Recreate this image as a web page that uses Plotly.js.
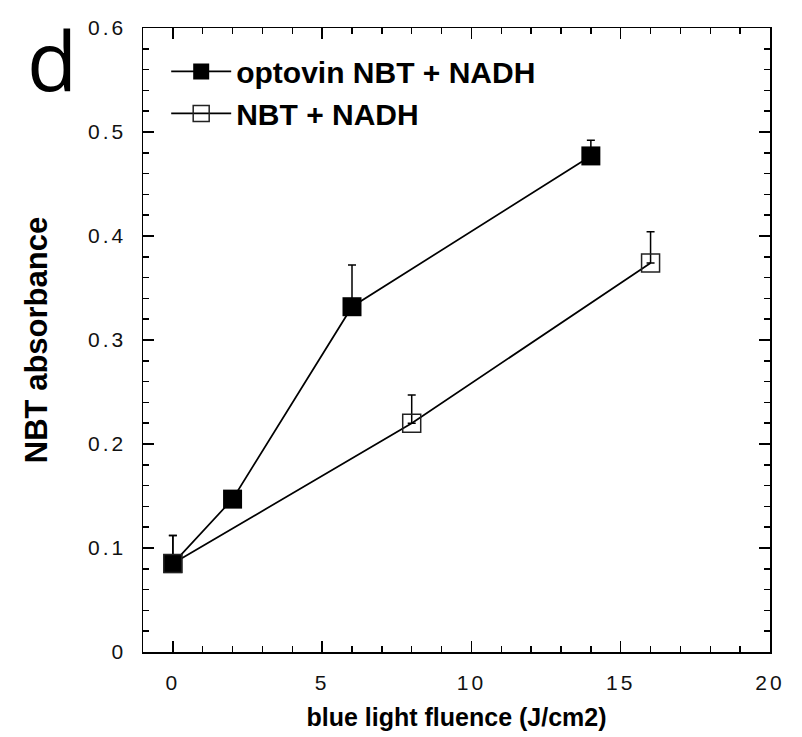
<!DOCTYPE html>
<html>
<head>
<meta charset="utf-8">
<script src="https://cdn.plot.ly/plotly-3.0.1.min.js"></script>
<style>
  html, body { margin: 0; padding: 0; background: #fff; }
  #chart { width: 802px; height: 737px; }
  .xtick text, .ytick text { letter-spacing: 3px; }
</style>
</head>
<body>
<div id="chart"></div>
<script>
// Blue light fluence (J/cm2)
const fluenceOptovin = [0, 2, 6, 14];
const absorbOptovin  = [0.085, 0.147, 0.332, 0.477];
const errOptovin     = [0.027, 0, 0.040, 0.015];

const fluenceControl = [0, 8, 16];
const absorbControl  = [0.085, 0.220, 0.374];
const errControl     = [0.027, 0.027, 0.030];

const seriesNames = ['optovin NBT + NADH', 'NBT + NADH'];

const lineStyle = { color: '#000', width: 1.7 };
const errStyle = (arr) => ({
  type: 'data', symmetric: false, array: arr,
  arrayminus: arr.map(() => 0),
  color: '#000', thickness: 1.5, width: 4
});

const traces = [
  {
    x: fluenceOptovin, y: absorbOptovin, name: seriesNames[0],
    type: 'scatter', mode: 'lines+markers',
    line: lineStyle,
    marker: { symbol: 'square', size: 19, color: '#000', line: { color: '#000', width: 0 } },
    error_y: errStyle(errOptovin)
  },
  {
    x: fluenceControl, y: absorbControl, name: seriesNames[1],
    type: 'scatter', mode: 'lines+markers',
    line: lineStyle,
    marker: { symbol: 'square-open', size: 18, color: '#222', line: { color: '#222', width: 1.5 } },
    error_y: errStyle(errControl)
  }
];

const tickFont = { family: 'Liberation Sans, Arial, sans-serif', size: 21, color: '#111' };
const boldFont = (s) => ({ family: 'Liberation Sans, Arial, sans-serif', size: s, color: '#000', weight: 'bold' });

const layout = {
  width: 802, height: 737,
  margin: { l: 143, r: 32, t: 28, b: 85 },
  paper_bgcolor: '#fff', plot_bgcolor: '#fff',
  showlegend: true,
  legend: {
    x: 0.037, y: 0.972, xanchor: 'left', yanchor: 'top',
    bgcolor: 'rgba(0,0,0,0)', borderwidth: 0, itemwidth: 60,
    font: boldFont(30), tracegroupgap: 0
  },
  xaxis: {
    range: [-1, 20], dtick: 5, tick0: 0,
    showgrid: false, zeroline: false,
    showline: true, linecolor: '#000', linewidth: 1.5, mirror: 'ticks',
    ticks: 'inside', ticklen: 11, tickwidth: 1.5, tickcolor: '#000',
    minor: { dtick: 1, ticks: 'inside', ticklen: 6, tickwidth: 1.5, tickcolor: '#000', showgrid: false },
    tickfont: tickFont, ticklabelstandoff: 11,
    title: { text: 'blue light fluence (J/cm2)', font: boldFont(25), standoff: 16 }
  },
  yaxis: {
    range: [0, 0.6], dtick: 0.1, tick0: 0,
    showgrid: false, zeroline: false,
    showline: true, linecolor: '#000', linewidth: 1.5, mirror: 'ticks',
    ticks: 'inside', ticklen: 11, tickwidth: 1.5, tickcolor: '#000',
    minor: { dtick: 0.02, ticks: 'inside', ticklen: 6, tickwidth: 1.5, tickcolor: '#000', showgrid: false },
    tickfont: tickFont, ticklabelstandoff: 11,
    title: { text: 'NBT absorbance', font: boldFont(31), standoff: 31 }
  },
  annotations: [
    {
      text: 'd', xref: 'paper', yref: 'paper',
      x: -0.145, y: 0.951, xanchor: 'center', yanchor: 'middle',
      showarrow: false,
      font: { family: 'Open Sans, Noto Sans, sans-serif', size: 82, color: '#000' }
    }
  ]
};

Plotly.newPlot('chart', traces, layout, { displayModeBar: false, staticPlot: true });
</script>
</body>
</html>
